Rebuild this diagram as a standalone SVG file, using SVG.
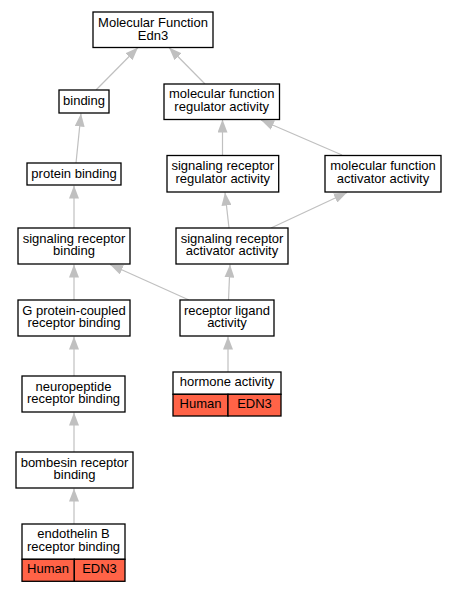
<svg xmlns="http://www.w3.org/2000/svg" width="456" height="592" viewBox="0 0 456 592">
<defs>
<style>
.n{fill:#fff;stroke:#000;stroke-width:1.3}
.g{fill:#ff6347;stroke:#000;stroke-width:1.3}
.e{stroke:#c0c0c0;stroke-width:1.2;fill:none;marker-end:url(#ah)}
text{font-family:"Liberation Sans",Arial,sans-serif;font-size:13px;text-anchor:middle;fill:#000}
</style>
<marker id="ah" markerUnits="userSpaceOnUse" markerWidth="13" markerHeight="10" refX="13" refY="5" orient="auto">
<path d="M0,0 L13,5 L0,10 z" fill="#c0c0c0"/>
</marker>
</defs>
<rect width="456" height="592" fill="#fff"/>
<g id="edges">
<line class="e" x1="96" y1="90" x2="138" y2="47.5"/>
<line class="e" x1="205" y1="84" x2="169" y2="47.5"/>
<line class="e" x1="76" y1="163" x2="81" y2="113.5"/>
<line class="e" x1="222.5" y1="155" x2="222.5" y2="119.5"/>
<line class="e" x1="342" y1="155" x2="261" y2="120"/>
<line class="e" x1="74" y1="228" x2="74" y2="185.5"/>
<line class="e" x1="229" y1="228" x2="225" y2="192.5"/>
<line class="e" x1="271" y1="228" x2="347" y2="192.5"/>
<line class="e" x1="74" y1="300" x2="74" y2="264.5"/>
<line class="e" x1="189" y1="300" x2="110" y2="264.5"/>
<line class="e" x1="228.5" y1="300" x2="230" y2="264.5"/>
<line class="e" x1="74" y1="376" x2="74" y2="336.5"/>
<line class="e" x1="228" y1="372" x2="228" y2="336.5"/>
<line class="e" x1="74" y1="452" x2="74" y2="412.5"/>
<line class="e" x1="74" y1="524" x2="74" y2="488.5"/>
</g>
<g id="mf_edn3">
<rect class="n" x="93" y="12" width="120" height="35.5"/>
<text x="153" y="27">Molecular Function</text>
<text x="153" y="40">Edn3</text>
</g>
<g id="binding">
<rect class="n" x="59" y="90" width="50" height="23"/>
<text x="84" y="105">binding</text>
</g>
<g id="mf_regulator">
<rect class="n" x="164" y="84" width="115.5" height="35.5"/>
<text x="221.7" y="98">molecular function</text>
<text x="221.7" y="110.5">regulator activity</text>
</g>
<g id="protein_binding">
<rect class="n" x="27" y="163" width="94" height="22"/>
<text x="74" y="177.5">protein binding</text>
</g>
<g id="sr_regulator">
<rect class="n" x="167" y="155.5" width="111.7" height="36.5"/>
<text x="222.8" y="170">signaling receptor</text>
<text x="222.8" y="182.5">regulator activity</text>
</g>
<g id="mf_activator">
<rect class="n" x="325" y="155.5" width="116" height="36.5"/>
<text x="383" y="170">molecular function</text>
<text x="383" y="182.5">activator activity</text>
</g>
<g id="sr_binding">
<rect class="n" x="18" y="228" width="112" height="36"/>
<text x="74" y="242.5">signaling receptor</text>
<text x="74" y="255">binding</text>
</g>
<g id="sr_activator">
<rect class="n" x="176" y="228" width="112" height="36"/>
<text x="232" y="242.5">signaling receptor</text>
<text x="232" y="255">activator activity</text>
</g>
<g id="gpcr_binding">
<rect class="n" x="18" y="300" width="112" height="36"/>
<text x="74" y="314.5">G protein-coupled</text>
<text x="74" y="327">receptor binding</text>
</g>
<g id="receptor_ligand">
<rect class="n" x="180" y="300" width="94" height="36"/>
<text x="227" y="314.5">receptor ligand</text>
<text x="227" y="327">activity</text>
</g>
<g id="neuropeptide">
<rect class="n" x="22" y="376" width="103" height="36"/>
<text x="73.5" y="390.5">neuropeptide</text>
<text x="73.5" y="403">receptor binding</text>
</g>
<g id="hormone">
<rect class="n" x="173" y="372" width="108" height="22.3"/>
<rect class="g" x="173" y="394.3" width="55" height="21.7"/>
<rect class="g" x="228" y="394.3" width="53" height="21.7"/>
<text x="227" y="386">hormone activity</text>
<text x="200.5" y="408">Human</text>
<text x="254.5" y="408">EDN3</text>
</g>
<g id="bombesin">
<rect class="n" x="16" y="452" width="117" height="36"/>
<text x="74.5" y="466.5">bombesin receptor</text>
<text x="74.5" y="479">binding</text>
</g>
<g id="endothelin_b">
<rect class="n" x="22" y="524" width="103" height="35.3"/>
<rect class="g" x="22" y="559.3" width="52.3" height="22"/>
<rect class="g" x="74.3" y="559.3" width="50.7" height="22"/>
<text x="73.5" y="538">endothelin B</text>
<text x="73.5" y="550.5">receptor binding</text>
<text x="48" y="572.5">Human</text>
<text x="99.5" y="572.5">EDN3</text>
</g>
</svg>
